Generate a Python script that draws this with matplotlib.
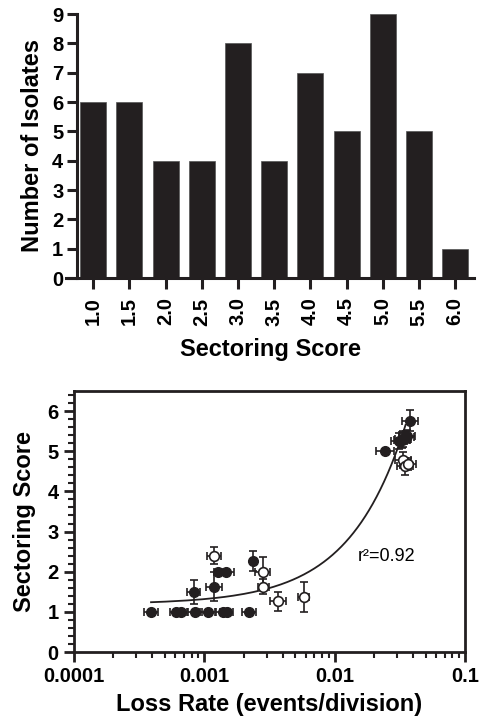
import numpy as np
import matplotlib
matplotlib.use("Agg")
import matplotlib.pyplot as plt
from matplotlib.ticker import MultipleLocator, LogLocator, NullFormatter, FixedLocator

plt.rcParams['font.family'] = ['Liberation Sans', 'DejaVu Sans']

# histogram of sectoring scores
scores = ['1.0', '1.5', '2.0', '2.5', '3.0', '3.5', '4.0', '4.5', '5.0', '5.5', '6.0']
counts = [6, 6, 4, 4, 8, 4, 7, 5, 9, 5, 1]

# loss rate vs sectoring score, filled circles
filled_x = [3.9e-4, 6.1e-4, 6.6e-4, 8.5e-4, 1.06e-3, 1.38e-3, 1.48e-3, 2.2e-3,
            8.3e-4, 1.18e-3, 1.27e-3, 1.47e-3, 2.37e-3,
            0.0243, 0.031, 0.0336, 0.0361, 0.0378]
filled_y = [1, 1, 1, 1, 1, 1, 1, 1,
            1.49, 1.63, 2.0, 2.0, 2.26,
            5.0, 5.25, 5.3, 5.38, 5.76]
filled_yerr = [0, 0, 0, 0, 0, 0, 0, 0,
               0.3, 0.37, 0.05, 0.0, 0.25,
               0.0, 0.2, 0.2, 0.15, 0.26]
filled_xdec = [0.055, 0.05, 0.05, 0.055, 0.055, 0.05, 0.05, 0.055,
               0.05, 0.06, 0.03, 0.06, 0.02,
               0.07, 0.06, 0.06, 0.06, 0.06]

# open circles
open_x = [1.19e-3, 2.8e-3, 2.84e-3, 3.66e-3, 5.77e-3, 0.033, 0.0355, 0.0335, 0.0348, 0.0365]
open_y = [2.4, 2.0, 1.63, 1.26, 1.37, 5.28, 5.35, 4.77, 4.62, 4.68]
open_yerr = [0.22, 0.36, 0.19, 0.24, 0.37, 0.2, 0.15, 0.2, 0.2, 0.15]
open_xdec = [0.055, 0.055, 0.04, 0.06, 0.045, 0.06, 0.06, 0.06, 0.06, 0.06]

# linear fit (score = a + b * rate)
fit_a = 1.19
fit_b = 127.6
fit_range = (3.9e-4, 0.035)
r2_text = 'r\u00b2=0.92'

W, H = 479, 720
fig = plt.figure(figsize=(W / 100, H / 100), dpi=100)

bold = dict(fontweight='bold')
tick_fs = 14.5
label_fs = 17
ink = '#231f20'

# ---- top: bar chart
ax1 = fig.add_axes([66 / W, 1 - 278 / H, (474 - 66) / W, (278 - 14) / H])
pos = np.arange(len(scores))
ax1.bar(pos, counts, width=0.72, color=ink, edgecolor='#555555', linewidth=0.5)
ax1.set_xlim(-0.75, 10.52)
ax1.set_ylim(0, 9)
ax1.spines['top'].set_visible(False)
ax1.spines['right'].set_visible(False)
ax1.spines['left'].set_position(('data', -0.44))
for s in ['left', 'bottom']:
    ax1.spines[s].set_linewidth(2.2)
    ax1.spines[s].set_color(ink)
ax1.set_xticks(pos)
ax1.set_xticklabels(scores, rotation=90, fontsize=tick_fs, **bold)
ax1.set_yticks(range(10))
ax1.set_yticklabels([str(i) for i in range(10)], fontsize=tick_fs, **bold)
ax1.tick_params(length=7, width=2.2, pad=3, color=ink)
ax1.tick_params(axis='x', length=8, pad=6)
ax1.set_ylabel('Number of Isolates', fontsize=label_fs, labelpad=6, **bold)
ax1.set_xlabel('Sectoring Score', fontsize=label_fs, labelpad=9, **bold)

# ---- bottom: scatter with error bars
ax2 = fig.add_axes([74 / W, 1 - 652 / H, (465 - 74) / W, (652 - 391) / H])
ax2.set_xscale('log')
ax2.set_xlim(1e-4, 0.1)
ax2.set_ylim(0, 6.5)


def xerr_from_dec(x, d):
    x = np.array(x)
    d = np.array(d)
    return [x - x / 10 ** d, x * 10 ** d - x]


fx = np.linspace(fit_range[0], fit_range[1], 300)
ax2.plot(fx, fit_a + fit_b * fx, color=ink, lw=1.3, zorder=2)

ax2.errorbar(open_x, open_y, yerr=open_yerr, xerr=xerr_from_dec(open_x, open_xdec),
             fmt='o', ms=7, mfc='white', mec=ink, mew=1.2,
             ecolor=ink, elinewidth=1.2, capsize=3, capthick=1.2, zorder=3)
ax2.errorbar(filled_x, filled_y, yerr=filled_yerr, xerr=xerr_from_dec(filled_x, filled_xdec),
             fmt='o', ms=7, mfc=ink, mec=ink,
             ecolor=ink, elinewidth=1.2, capsize=3, capthick=1.2, zorder=4)

ax2.text(0.01503, 2.375, r2_text, fontsize=13, va='center', ha='left')

for s in ax2.spines.values():
    s.set_linewidth(2.0)
    s.set_color(ink)
ax2.yaxis.set_major_locator(MultipleLocator(1))
ax2.yaxis.set_minor_locator(MultipleLocator(0.2))
ax2.xaxis.set_major_locator(FixedLocator([1e-4, 1e-3, 1e-2, 1e-1]))
ax2.xaxis.set_minor_locator(LogLocator(base=10, subs=np.arange(2, 10)))
ax2.xaxis.set_minor_formatter(NullFormatter())
ax2.set_xticklabels(['0.0001', '0.001', '0.01', '0.1'], fontsize=tick_fs, **bold)
ax2.set_yticks(range(7))
ax2.set_yticklabels([str(i) for i in range(7)], fontsize=tick_fs, **bold)
ax2.tick_params(which='major', length=7, width=2.0, pad=4, color=ink)
ax2.tick_params(which='minor', length=4, width=1.5, color=ink)
ax2.set_ylabel('Sectoring Score', fontsize=label_fs, labelpad=8, **bold)
ax2.set_xlabel('Loss Rate (events/division)', fontsize=label_fs, labelpad=5, **bold)

fig.savefig('out.png', dpi=100)
